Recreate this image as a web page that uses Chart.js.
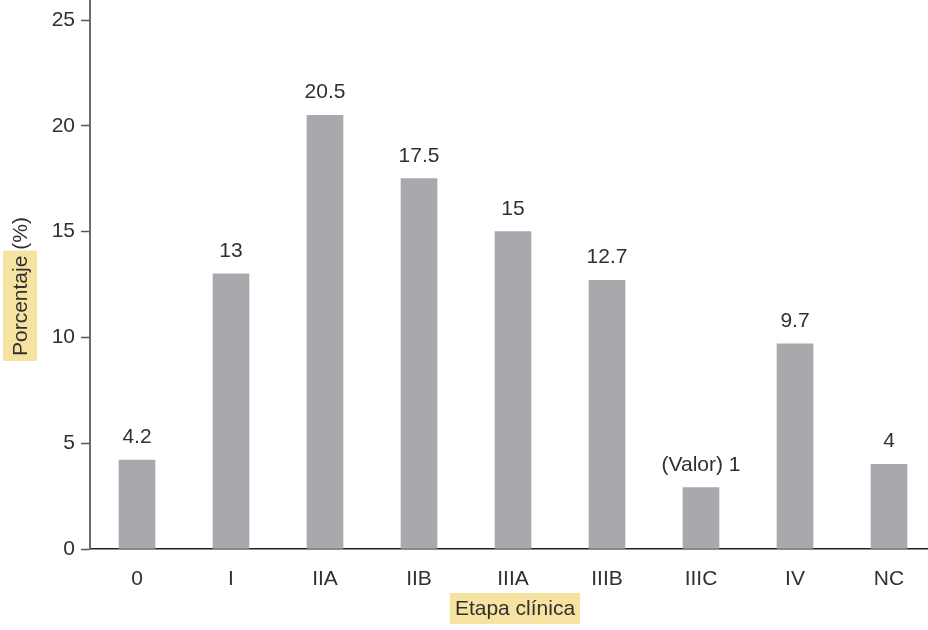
<!DOCTYPE html>
<html>
<head>
<meta charset="utf-8">
<script src="https://cdn.jsdelivr.net/npm/chart.js@4.4.1/dist/chart.umd.min.js"></script>
<style>
  html, body { margin: 0; padding: 0; background: #ffffff; overflow: hidden; }
  #wrap { width: 940px; height: 630px; }
</style>
</head>
<body>
<div id="wrap"><canvas id="chart" width="940" height="630"></canvas></div>
<script>
// Distribución por etapa clínica
const categories = ['0', 'I', 'IIA', 'IIB', 'IIIA', 'IIIB', 'IIIC', 'IV', 'NC'];
const percentages = [4.2, 13, 20.5, 17.5, 15, 12.7, 2.9, 9.7, 4];
const barLabels = ['4.2', '13', '20.5', '17.5', '15', '12.7', '(Valor) 1', '9.7', '4'];
const yTickValues = [0, 5, 10, 15, 20, 25];
const xTitle = 'Etapa clínica';
const yTitleMain = 'Porcentaje';
const yTitleUnit = ' (%)';

const FONT = '"Liberation Sans", Arial, Helvetica, sans-serif';
const TEXT = '#303030';
const HIGHLIGHT = '#f7e3a1';
const X_TITLE_CENTER = 515;

// value labels above each bar
const barValueLabels = {
  id: 'barValueLabels',
  afterDatasetsDraw(chart) {
    const ctx = chart.ctx;
    const meta = chart.getDatasetMeta(0);
    ctx.save();
    ctx.font = '21px ' + FONT;
    ctx.fillStyle = TEXT;
    ctx.textAlign = 'center';
    ctx.textBaseline = 'alphabetic';
    meta.data.forEach((bar, i) => {
      ctx.fillText(barLabels[i], bar.x, bar.y - 17);
    });
    ctx.restore();
  }
};

// axis titles on a highlighter background, plus the y axis line running up to the top edge
const axisDecor = {
  id: 'axisDecor',
  beforeDraw(chart) {
    const ctx = chart.ctx;
    ctx.save();
    ctx.font = '21px ' + FONT;

    // x title
    const xw = ctx.measureText(xTitle).width;
    ctx.fillStyle = HIGHLIGHT;
    ctx.fillRect(X_TITLE_CENTER - xw / 2 - 5, 593, xw + 10, 31);

    // y title: highlight covers the word only
    const wMain = ctx.measureText(yTitleMain).width;
    const yBottom = 356;
    ctx.fillRect(3, yBottom - wMain - 5, 34, wMain + 10);
    ctx.restore();
  },
  afterDraw(chart) {
    const ctx = chart.ctx;
    const area = chart.chartArea;
    ctx.save();
    ctx.font = '21px ' + FONT;
    ctx.fillStyle = TEXT;
    ctx.textBaseline = 'middle';

    ctx.textAlign = 'center';
    ctx.fillText(xTitle, X_TITLE_CENTER, 609);

    ctx.translate(21, 356);
    ctx.rotate(-Math.PI / 2);
    ctx.textAlign = 'left';
    ctx.fillText(yTitleMain + yTitleUnit, 0, 0);
    ctx.restore();

    ctx.save();
    ctx.strokeStyle = '#6a6a6a';
    ctx.lineWidth = 2;
    ctx.beginPath();
    ctx.moveTo(area.left, 0);
    ctx.lineTo(area.left, area.top);
    ctx.stroke();
    ctx.restore();
  }
};

new Chart(document.getElementById('chart'), {
  type: 'bar',
  data: {
    labels: categories,
    datasets: [{
      data: percentages,
      backgroundColor: '#a7a9ac',
      borderWidth: 0,
      barThickness: 36
    }]
  },
  options: {
    responsive: false,
    animation: false,
    events: [],
    layout: { padding: { top: 20, right: 4, left: 0, bottom: 0 } },
    plugins: {
      legend: { display: false },
      tooltip: { enabled: false },
      title: { display: false }
    },
    scales: {
      x: {
        offset: true,
        grid: { display: false, drawTicks: false },
        border: { display: true, color: '#1e1e1e', width: 1.5 },
        ticks: {
          padding: 18,
          color: TEXT,
          font: { family: FONT, size: 21 }
        },
        afterFit(scale) { scale.height = 81; }
      },
      y: {
        min: 0,
        max: 25,
        afterBuildTicks(scale) {
          scale.ticks = yTickValues.map(v => ({ value: v }));
        },
        grid: {
          display: true,
          drawOnChartArea: false,
          drawTicks: true,
          tickLength: 9,
          tickWidth: 1.5,
          tickColor: '#555555'
        },
        border: { display: true, color: '#6a6a6a', width: 2 },
        ticks: {
          padding: 6,
          color: TEXT,
          font: { family: FONT, size: 21 }
        },
        afterFit(scale) { scale.width = 90; }
      }
    }
  },
  plugins: [barValueLabels, axisDecor]
});
</script>
</body>
</html>
